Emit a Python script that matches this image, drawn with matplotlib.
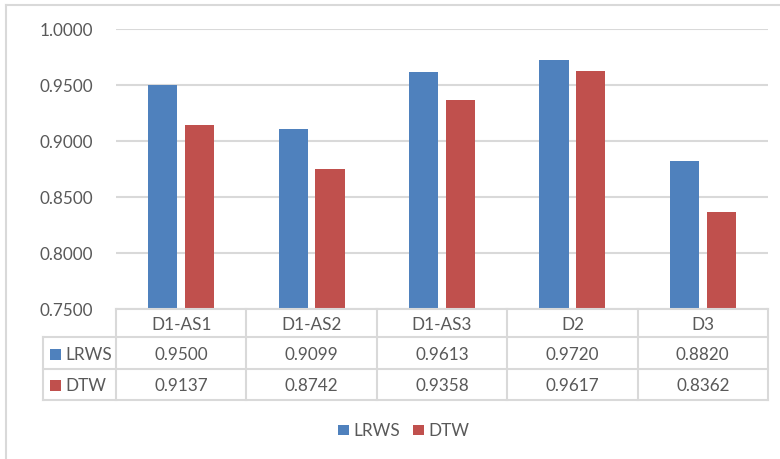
import matplotlib
matplotlib.use("Agg")
import matplotlib.pyplot as plt
from matplotlib.patches import Rectangle
from matplotlib.lines import Line2D
import numpy as np

categories = ["D1-AS1", "D1-AS2", "D1-AS3", "D2", "D3"]
series_names = ["LRWS", "DTW"]
lrws = [0.9500, 0.9099, 0.9613, 0.9720, 0.8820]
dtw = [0.9137, 0.8742, 0.9358, 0.9617, 0.8362]
yticks = [0.75, 0.80, 0.85, 0.90, 0.95, 1.00]

colors = ["#4F81BD", "#C0504D"]
grid_c = "#D9D9D9"
text_c = "#595959"
FONT = "Lato"
FS = 12.3

W, H = 780, 460
fig = plt.figure(figsize=(W / 100, H / 100), dpi=100)
plt.rcParams["font.family"] = [FONT, "DejaVu Sans"]

# plot area in pixels
px_l, px_r, px_t, px_b = 116, 768, 29.5, 309.5
ax = fig.add_axes([px_l / W, 1 - px_b / H, (px_r - px_l) / W, (px_b - px_t) / H])

x = np.arange(len(categories))
bw = 0.225
off = 0.141
ax.bar(x - off, lrws, bw, color=colors[0], zorder=3)
ax.bar(x + off, dtw, bw, color=colors[1], zorder=3)
ax.set_xlim(-0.5, len(categories) - 0.5)
ax.set_ylim(yticks[0], yticks[-1])
ax.set_yticks(yticks)
ax.set_yticklabels([f"{v:.4f}" for v in yticks], fontsize=FS, color=text_c)
ax.tick_params(axis="y", length=0, pad=23 * 0.72)
ax.set_xticks([])
ax.grid(axis="y", color=grid_c, linewidth=1.5, zorder=0)
for s in ax.spines.values():
    s.set_visible(False)

def fp(xp, yp):
    return xp / W, 1 - yp / H

def fline(xs, ys, **kw):
    fx = [xx / W for xx in xs]
    fy = [1 - yy / H for yy in ys]
    fig.add_artist(Line2D(fx, fy, transform=fig.transFigure, color=grid_c, linewidth=1.5, **kw))

# outer chart border
fline([6, 6], [6, 460])
fline([6, 780], [6, 6])

# data table
col_w = (px_r - px_l) / len(categories)
edges = [px_l + i * col_w for i in range(len(categories) + 1)]
row_y = [309.5, 338, 370, 401]
leg_l = 43
fline([px_l, px_r], [row_y[0], row_y[0]])
for yy in row_y[1:]:
    fline([leg_l, px_r], [yy, yy])
for ex in edges:
    fline([ex, ex], [row_y[0], row_y[-1]])
fline([leg_l, leg_l], [row_y[1], row_y[-1]])

for i, c in enumerate(categories):
    cx = (edges[i] + edges[i + 1]) / 2
    fig.text(*fp(cx, (row_y[0] + row_y[1]) / 2 + 1), c, ha="center", va="center",
             fontsize=FS, color=text_c)
for r, (name, vals) in enumerate(zip(series_names, [lrws, dtw])):
    cy = (row_y[r + 1] + row_y[r + 2]) / 2 + 1
    for i, v in enumerate(vals):
        cx = (edges[i] + edges[i + 1]) / 2
        fig.text(*fp(cx, cy), f"{v:.4f}", ha="center", va="center", fontsize=FS, color=text_c)
    sx, sy = fp(50, cy + 5.5)
    fig.add_artist(Rectangle((sx, sy), 11 / W, 11 / H, transform=fig.transFigure,
                             color=colors[r], linewidth=0))
    fig.text(*fp(65, cy), name, ha="left", va="center", fontsize=FS, color=text_c)

# bottom legend
leg_items = [(338, 353), (413, 428)]
for r, (sqx, tx) in enumerate(leg_items):
    sx, sy = fp(sqx, 436)
    fig.add_artist(Rectangle((sx, sy), 11 / W, 10 / H, transform=fig.transFigure,
                             color=colors[r], linewidth=0))
    fig.text(*fp(tx, 431.5), series_names[r], ha="left", va="center", fontsize=FS, color=text_c)

fig.savefig("out.png", dpi=100)
